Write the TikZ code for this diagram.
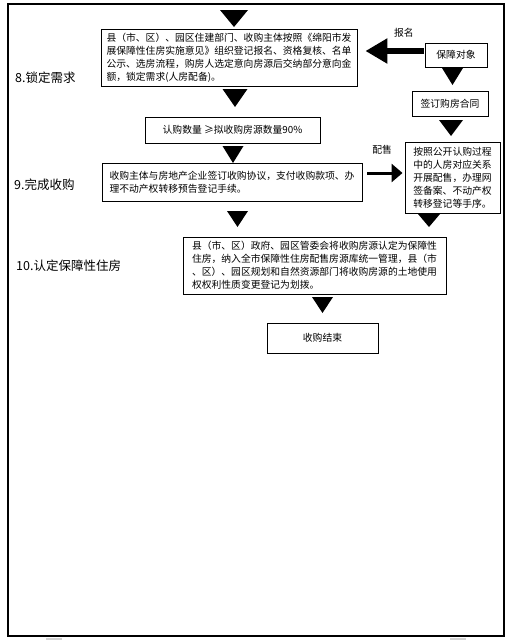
\documentclass[tikz,border=0pt]{standalone}
\usepackage{fontspec}
\usepackage{tikz}
\usetikzlibrary{arrows.meta,positioning,calc}
\newfontfamily\cjk{Noto Sans CJK SC}
\newcommand{\boxfont}{\cjk\fontsize{9.8}{13}\selectfont}
\newcommand{\stagefont}{\cjk\fontsize{12.5}{15}\selectfont}

\begin{document}
\begin{tikzpicture}[x=1pt,y=-1pt,>=Latex,
    stepbox/.style={draw,line width=0.9pt,inner xsep=4pt,inner ysep=2pt,align=left,font=\boxfont},
    stagelabel/.style={anchor=west,inner sep=0pt,font=\stagefont},
    arrowlabel/.style={inner sep=1pt,font=\boxfont}]
    \useasboundingbox (0,0) rectangle (509,640);
    % 外框
    \draw[line width=1.6pt] (8,4) rectangle (504,636);
    \fill[gray!35] (46,638) rectangle (62,640);
    \fill[gray!35] (450,638) rectangle (466,640);

    % 阶段名称
    \node[stagelabel] (s8) at (15,78) {8.锁定需求};
    \node[stagelabel] (s9) at (14,185) {9.完成收购};
    \node[stagelabel] (s10) at (16,266) {10.认定保障性住房};

    % 流程方框
    \node[stepbox,minimum width=256pt,minimum height=57pt] (lock) at (229,57.5)
      {县（市、区）、园区住建部门、收购主体按照《绵阳市发\\展保障性住房实施意见》组织登记报名、资格复核、名单\\公示、选房流程，购房人选定意向房源后交纳部分意向金\\额，锁定需求(人房配备)。};
    \node[stepbox,minimum width=62pt,minimum height=24pt] (obj) at (456,55) {保障对象};
    \node[stepbox,minimum width=76pt,minimum height=25pt] (sign) at (450,103.5) {签订购房合同};
    \node[stepbox,minimum width=175pt,minimum height=26pt] (count) at (232.5,130) {认购数量 ≥拟收购房源数量90\%};
    \node[stepbox,minimum width=260pt,minimum height=38pt] (buy) at (232,182)
      {收购主体与房地产企业签订收购协议，支付收购款项、办\\理不动产权转移预告登记手续。};
    \node[stepbox,minimum width=95pt,minimum height=71pt] (assign) at (452.5,177.5)
      {按照公开认购过程\\中的人房对应关系\\开展配售，办理网\\签备案、不动产权\\转移登记等手序。};
    \node[stepbox,minimum width=263pt,minimum height=57pt] (gov) at (314.5,265.5)
      {县（市、区）政府、园区管委会将收购房源认定为保障性\\住房，纳入全市保障性住房配售房源库统一管理，县（市\\、区）、园区规划和自然资源部门将收购房源的土地使用\\权权利性质变更登记为划拨。};
    \node[stepbox,minimum width=111pt,minimum height=30pt] (finish) at (322.5,338) {收购结束};

    % 向下的黑三角
    \foreach \x/\y/\w/\h in {234/27/14/17, 235/107/12.5/18, 452.5/85/10.5/17, 451/136/12/16,
                            233/163/10.5/17, 237.5/227/10.5/16, 429/227/11/13, 322.5/313/10.5/16}
      \fill (\x-\w,\y-\h) -- (\x+\w,\y-\h) -- (\x,\y) -- cycle;

    % 横向粗箭头
    \draw[line width=6pt,-{Triangle[length=22pt,width=24pt]}] ($(obj.west)+(-1,-4)$)
      -- node[arrowlabel,pos=0.34,above=10pt] {报名} ($(obj.west -| lock.east)+(8,-4)$);
    \draw[line width=3pt,-{Triangle[length=11pt,width=18pt]}] ($(buy.east)+(5,-9)$)
      -- node[arrowlabel,pos=0.42,above=16pt] {配售} ($(buy.east -| assign.west)+(-2,-9)$);
  \end{tikzpicture}
\end{document}
